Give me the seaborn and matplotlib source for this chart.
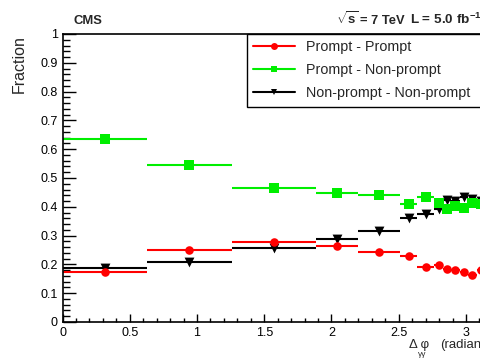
import numpy as np
import pandas as pd
import matplotlib
matplotlib.use("Agg")
import matplotlib.pyplot as plt
from matplotlib.lines import Line2D
from matplotlib.ticker import MultipleLocator, FuncFormatter
import seaborn as sns

# ---- data ----
bin_edges = [0.0, 0.628, 1.257, 1.885, 2.199, 2.513, 2.639, 2.765,
             2.827, 2.890, 2.953, 3.016, 3.079, 3.142]
prompt_prompt = [0.172, 0.250, 0.279, 0.265, 0.244, 0.229, 0.192,
                 0.198, 0.185, 0.179, 0.174, 0.164, 0.180]
prompt_nonprompt = [0.635, 0.545, 0.464, 0.447, 0.441, 0.410, 0.433,
                    0.412, 0.391, 0.403, 0.395, 0.412, 0.410]
nonprompt_nonprompt = [0.189, 0.208, 0.258, 0.288, 0.316, 0.360, 0.375,
                       0.391, 0.424, 0.421, 0.435, 0.426, 0.420]
series_names = ["Prompt - Prompt", "Prompt - Non-prompt", "Non-prompt - Non-prompt"]
x_ticks = [0, 0.5, 1, 1.5, 2, 2.5, 3]
y_ticks = [0, 0.1, 0.2, 0.3, 0.4, 0.5, 0.6, 0.7, 0.8, 0.9, 1.0]

sns.set_theme(style="white")
plt.rcParams["font.family"] = ["Liberation Sans", "DejaVu Sans"]
plt.rcParams["mathtext.fontset"] = "custom"
plt.rcParams["mathtext.rm"] = "Liberation Sans"
plt.rcParams["mathtext.bf"] = "Liberation Sans:bold"
plt.rcParams["mathtext.it"] = "Liberation Sans:italic"

W, H = 480, 358
fig = plt.figure(figsize=(W / 100, H / 100), dpi=100)
fig.patch.set_facecolor("white")
ax = fig.add_axes([62.5 / W, 36 / H, 422.5 / W, 288 / H])
ax.set_facecolor("white")

lo = np.array(bin_edges[:-1])
hi = np.array(bin_edges[1:])
centers = (lo + hi) / 2

colors = {series_names[0]: "#ff0000", series_names[1]: "#00ee00", series_names[2]: "#000000"}
markers = {series_names[0]: "o", series_names[1]: "s", series_names[2]: "v"}
sizes = {series_names[0]: 38, series_names[1]: 45, series_names[2]: 50}

values = [prompt_prompt, prompt_nonprompt, nonprompt_nonprompt]
order = [2, 0, 1]
for i in order:
    name = series_names[i]
    df = pd.DataFrame({"x": centers, "y": values[i], "lo": lo, "hi": hi})
    ax.hlines(df["y"], df["lo"], df["hi"], color=colors[name], lw=1.5, zorder=2)
    sns.scatterplot(data=df, x="x", y="y", ax=ax, color=colors[name],
                    marker=markers[name], s=sizes[name], linewidth=0,
                    edgecolor=colors[name], zorder=3, legend=False)

ax.set_xlim(0, 3.1416)
ax.set_ylim(0, 1)
ax.set_xlabel("")
ax.set_ylabel("")
ax.set_xticks(x_ticks)
ax.set_yticks(y_ticks)
ax.xaxis.set_minor_locator(MultipleLocator(0.1))
ax.yaxis.set_minor_locator(MultipleLocator(0.02))
fmt = FuncFormatter(lambda v, p: "%g" % round(v, 2))
ax.xaxis.set_major_formatter(fmt)
ax.yaxis.set_major_formatter(fmt)
ax.tick_params(axis="x", which="major", direction="in", length=5.8, width=1,
               labelsize=9, pad=3.5, color="black", labelcolor="black", bottom=True)
ax.tick_params(axis="x", which="minor", direction="in", length=2.9, width=1,
               color="black", bottom=True)
ax.tick_params(axis="y", which="major", direction="in", length=9, width=1,
               labelsize=9, pad=3.5, color="black", labelcolor="black", left=True)
ax.tick_params(axis="y", which="minor", direction="in", length=4.7, width=1,
               color="black", left=True)
for s in ax.spines.values():
    s.set_color("black")
    s.set_linewidth(1.2)
ax.grid(False)

# legend
handles = [Line2D([0], [0], color=colors[n], lw=1.5, marker=markers[n],
                  markersize=5, markeredgewidth=0) for n in series_names]
leg = ax.legend(handles, series_names, loc="upper left",
                bbox_to_anchor=(0.4367, 0.0, 0.7, 1.0), mode="expand",
                borderaxespad=0, frameon=True, fancybox=False, framealpha=1,
                edgecolor="black", fontsize=10.3, handlelength=2.9,
                handletextpad=0.75, labelspacing=0.62, borderpad=0.45)
leg.get_frame().set_linewidth(1.0)

def ftext(x, y, s, **kw):
    fig.text(x / W, 1 - y / H, s, **kw)

ftext(73, 24, "CMS", fontsize=9.4, fontweight="bold", va="baseline", ha="left")
ftext(336, 24, r"$\sqrt{\mathbf{s}}$",
      fontsize=9.5, fontweight="bold", va="baseline", ha="left")
ftext(360, 24, "= 7 TeV",
      fontsize=9.3, fontweight="bold", va="baseline", ha="left")
ftext(410, 24, r"L = 5.0 fb$^{\mathbf{-1}}$",
      fontsize=9.7, fontweight="bold", va="baseline", ha="left")
ftext(19, 35, "Fraction", fontsize=11.5, rotation=90, va="top", ha="center")
ftext(409, 345, "Δ φ", fontsize=9.5, va="center", ha="left")
ftext(418, 355, "γγ", fontsize=6, va="center", ha="left")
ftext(440, 345, "(radians)", fontsize=9.5, va="center", ha="left")

fig.savefig("out.png", dpi=100)
